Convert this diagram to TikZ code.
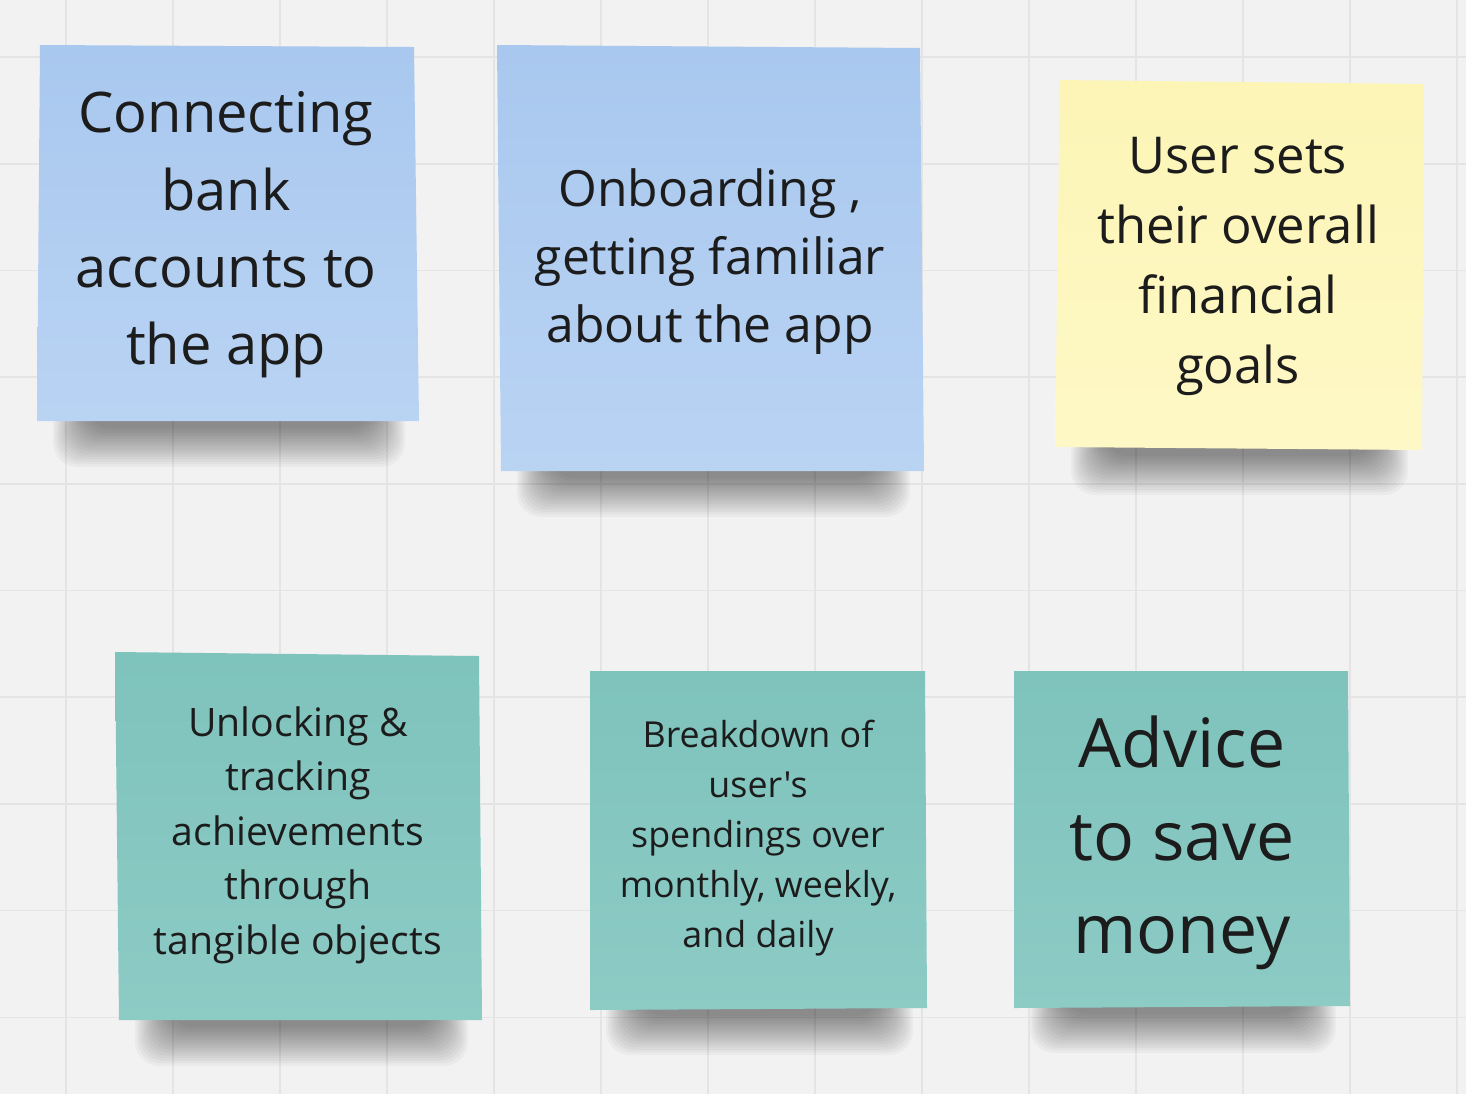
\documentclass[tikz,border=0pt]{standalone}
\usepackage{fontspec}
\setmainfont{Open Sans}[Ligatures=TeXOff]

\definecolor{board}{HTML}{F2F2F2}
\definecolor{gridgray}{HTML}{E4E4E4}
\definecolor{inkblack}{HTML}{1C1C1C}
\definecolor{bluetop}{HTML}{A9C8EF}
\definecolor{bluebot}{HTML}{B9D3F3}
\definecolor{yellowtop}{HTML}{FCF5B6}
\definecolor{yellowbot}{HTML}{FEF8C6}
\definecolor{tealtop}{HTML}{7EC3BC}
\definecolor{tealbot}{HTML}{8DCBC5}

% shadow under a note: left, right, bottom
\newcommand{\noteshadow}[3]{%
  \foreach \k in {0,...,15}
    \fill[black, opacity=0.032, rounded corners=12pt]
      (#1+16+2.2*\k, #3-20) rectangle (#2-14-2.2*\k, #3+46-2.6*\k);
}

\begin{document}
\begin{tikzpicture}[x=0.5pt,y=-0.5pt,
    gridline/.style={draw=gridgray, line width=0.8pt},
    bluenote/.style={top color=bluetop, bottom color=bluebot},
    yellownote/.style={top color=yellowtop, bottom color=yellowbot},
    tealnote/.style={top color=tealtop, bottom color=tealbot},
    notetext/.style={align=center, text=inkblack, inner sep=0pt}]

  % board and grid
  \fill[board] (0,0) rectangle (1466,1094);
  \useasboundingbox (0,0) rectangle (1466,1094);
  \foreach \gx in {66,173,...,1457}
    \draw[gridline] (\gx,0) -- (\gx,1094);
  \foreach \gy in {57,163.7,...,1094}
    \draw[gridline] (0,\gy) -- (1466,\gy);

  % shadows
  \noteshadow{37}{419}{421}
  \noteshadow{501}{924}{471}
  \noteshadow{1055}{1422}{449}
  \noteshadow{119}{482}{1020}
  \noteshadow{590}{927}{1009}
  \noteshadow{1014}{1350}{1007}

  % top row
  \shade[bluenote] (40,45) -- (414,47) -- (419,421) -- (37,421) -- cycle;
  \node[notetext, font=\fontsize{28}{38.7}\selectfont] (connect) at (226,235)
    {Connecting\\bank\\accounts to\\the app};

  \shade[bluenote] (497,45) -- (920,48) -- (924,471) -- (501,471) -- cycle;
  \node[notetext, font=\fontsize{24.9}{34}\selectfont] (onboard) at (710,262)
    {Onboarding ,\\getting familiar\\about the app};

  \shade[yellownote] (1060,80) -- (1424,84) -- (1422,450) -- (1055,447) -- cycle;
  \node[notetext, font=\fontsize{25.4}{35}\selectfont] (goals) at (1238,266)
    {User sets\\their overall\\financial\\goals};

  % bottom row
  \shade[tealnote] (115,652) -- (479,656) -- (482,1020) -- (119,1020) -- cycle;
  \node[notetext, font=\fontsize{19.6}{27.3}\selectfont] (unlock) at (298,835)
    {Unlocking \&\\tracking\\achievements\\through\\tangible objects};

  \shade[tealnote] (590,671) -- (925,671) -- (927,1008) -- (590,1010) -- cycle;
  \node[notetext, font=\fontsize{17.9}{25}\selectfont] (breakdown) at (758,838)
    {Breakdown of\\user's\\spendings over\\monthly, weekly,\\and daily};

  \shade[tealnote] (1014,671) -- (1348,671) -- (1350,1006) -- (1014,1008) -- cycle;
  \node[notetext, font=\fontsize{34}{46.5}\selectfont] (advice) at (1182,843)
    {Advice\\to save\\money};
\end{tikzpicture}
\end{document}
